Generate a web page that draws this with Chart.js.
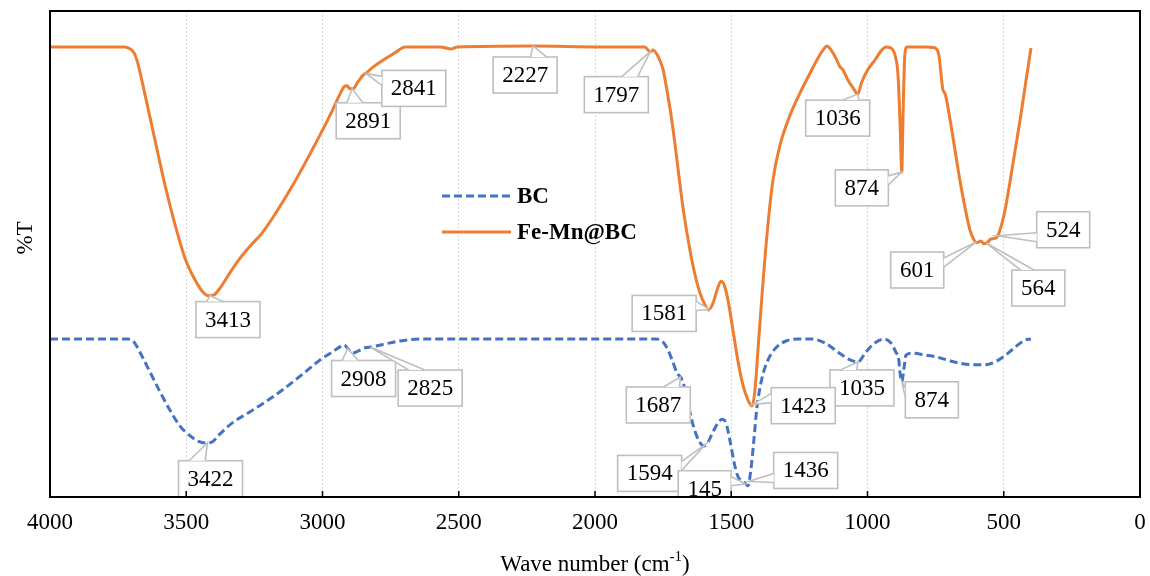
<!DOCTYPE html>
<html><head><meta charset="utf-8">
<script src="https://cdn.jsdelivr.net/npm/chart.js@4.4.0/dist/chart.umd.min.js"></script>
<style>html,body{margin:0;padding:0;background:#fff;overflow:hidden}#wrap{width:1150px;height:576px}</style>
</head><body><div id="wrap"><canvas id="c" width="1150" height="576"></canvas></div>
<script>
// ---------- DATA ----------
const xTickValues = [4000, 3500, 3000, 2500, 2000, 1500, 1000, 500, 0];
const seriesNames = ['BC', 'Fe-Mn@BC'];

const bcWave = [4000,3714,3692,3670,3633,3596,3560,3523,3486,3457,3431,3406,3376,3332,3273,3211,3138,3064,3009,2965,2936,2921,2907,2892,2870,2844,2818,2771,2716,2642,1776,1754,1736,1717,1699,1684,1673,1655,1637,1618,1600,1585,1567,1549,1534,1519,1505,1490,1476,1461,1450,1439,1428,1417,1406,1387,1365,1336,1299,1255,1204,1156,1108,1064,1035,1006,973,939,914,896,885,881,874,866,859,837,789,745,697,650,606,569,525,484,448,422,400];
const bcT = [32.5,32.5,31.9,29.8,25.7,21.6,17.9,14.6,12.6,11.5,11.1,11.3,13.0,15.2,17.3,19.5,22.4,25.7,28.2,29.8,30.9,31.3,30.5,29.6,30.0,30.7,30.9,31.5,32.1,32.5,32.5,32.1,30.7,28.2,25.5,24.5,22.8,18.3,14.2,11.5,10.5,11.3,13.4,15.2,16.0,15.2,11.7,7.2,4.3,3.3,2.9,2.3,5.6,11.7,18.3,24.5,28.2,30.7,32.1,32.5,32.5,31.7,29.8,28.2,27.8,29.8,31.7,32.5,31.7,29.8,28.2,25.7,23.7,26.5,29.2,29.6,29.2,28.8,28.0,27.4,27.2,27.2,28.0,29.6,31.3,32.3,32.5];

const femnWave = [4000,3853,3725,3706,3692,3681,3651,3615,3578,3541,3505,3468,3439,3417,3398,3376,3347,3310,3266,3222,3174,3119,3064,3009,2965,2936,2921,2910,2899,2888,2870,2851,2840,2818,2771,2734,2697,2569,2525,2506,2227,1982,1817,1798,1787,1769,1750,1736,1721,1706,1688,1673,1655,1637,1615,1596,1582,1567,1552,1538,1527,1512,1494,1476,1457,1439,1424,1413,1402,1387,1369,1347,1321,1284,1248,1211,1182,1160,1149,1134,1116,1101,1090,1072,1053,1036,1021,999,973,947,932,914,899,888,881,874,870,863,855,789,752,738,723,716,697,679,661,642,624,609,598,584,573,561,547,528,514,495,470,440,418,400];
const femnT = [92.6,92.6,92.6,92.2,91.4,89.9,82.7,73.5,64.2,56.0,49.2,44.7,42.2,41.4,41.6,43.0,45.5,48.6,51.6,54.3,58.2,63.2,68.7,74.5,79.4,82.9,84.4,84.6,84.0,84.0,85.4,86.8,87.2,88.3,90.1,91.4,92.6,92.6,92.2,92.6,92.8,92.6,92.6,91.6,92.0,90.7,87.9,83.7,78.6,72.4,64.2,58.0,51.9,46.7,42.0,39.5,38.5,39.9,42.6,44.4,43.8,40.5,34.4,28.2,23.0,20.0,18.7,22.0,30.2,41.6,53.9,65.2,72.4,78.6,83.1,87.2,90.3,92.2,92.8,92.0,90.3,88.5,87.9,85.8,84.2,82.9,85.4,87.9,89.9,92.0,92.6,92.4,90.9,86.8,77.6,66.9,77.6,90.9,92.6,92.6,92.4,90.9,83.7,83.1,77.6,71.4,65.2,59.5,54.9,52.9,52.3,52.7,52.1,52.3,53.1,53.3,54.9,59.1,67.3,77.6,85.8,92.4];

const bcPeakWave = [3422, 2908, 2825, 1687, 1594, 1447, 1436, 1035, 874];
const bcPeakText = ['3422', '2908', '2825', '1687', '1594', '145', '1436', '1035', '874'];
const femnPeakWave = [3413, 2891, 2841, 2227, 1797, 1581, 1423, 1036, 874, 601, 564, 524];
const femnPeakText = ['3413', '2891', '2841', '2227', '1797', '1581', '1423', '1036', '874', '601', '564', '524'];

// ---------- LAYOUT (box offsets from tip, px) ----------
const bcCalloutOffset = [[3,36],[16,30],[60,41],[-22,28],[-56,29],[-41,5],[57,-11],[4,26],[30,18]];
const femnCalloutOffset = [[18,24],[16,32],[48,15],[-8,29],[-34,43],[-45,4],[51,1],[-20,24],[-40,16],[-59,28],[52,45],[66,-6]];

const SERIF = "'Liberation Serif','Times New Roman',serif";
const ORANGE = '#ED7D31', BLUE = '#4472C4';

function valAt(waves, vals, w) {
  for (let i = 0; i < waves.length - 1; i++) {
    const a = waves[i], b = waves[i + 1];
    if ((w <= a && w >= b)) {
      const t = a === b ? 0 : (a - w) / (a - b);
      return vals[i] + t * (vals[i + 1] - vals[i]);
    }
  }
  return vals[vals.length - 1];
}

function drawCallout(ctx, tx, ty, cx, cy, text) {
  ctx.font = '23px ' + SERIF;
  const tw = ctx.measureText(text).width;
  const w = Math.round(tw + 18), h = 36;
  const l = cx - w / 2, t = cy - h / 2;
  const dx = tx - cx, dy = ty - cy;
  let p1, p2;
  if (Math.abs(dy) * w > Math.abs(dx) * h) {
    const ey = dy < 0 ? t : t + h;
    const g1 = dx > 0 ? 7 : 2, g2 = dx > 0 ? 10 : 5;
    p1 = [l + w * g1 / 12, ey]; p2 = [l + w * g2 / 12, ey];
  } else {
    const ex = dx < 0 ? l : l + w;
    const g1 = dy > 0 ? 7 : 2, g2 = dy > 0 ? 10 : 5;
    p1 = [ex, t + h * g1 / 12]; p2 = [ex, t + h * g2 / 12];
  }
  ctx.lineWidth = 1.6;
  ctx.strokeStyle = '#BFBFBF';
  ctx.fillStyle = '#FFFFFF';
  ctx.fillRect(l, t, w, h);
  ctx.strokeRect(l, t, w, h);
  ctx.beginPath();
  ctx.moveTo(p1[0], p1[1]); ctx.lineTo(tx, ty); ctx.lineTo(p2[0], p2[1]); ctx.closePath();
  ctx.fill();
  ctx.beginPath();
  ctx.moveTo(p1[0], p1[1]); ctx.lineTo(tx, ty); ctx.lineTo(p2[0], p2[1]);
  ctx.stroke();
  ctx.fillStyle = '#000';
  ctx.textAlign = 'center'; ctx.textBaseline = 'middle';
  ctx.fillText(text, cx, cy + 1);
}

const decorPlugin = {
  id: 'decor',
  afterDatasetsDraw(chart) {
    const ctx = chart.ctx, a = chart.chartArea, xs = chart.scales.x, ys = chart.scales.y;
    ctx.save();
    ctx.beginPath(); ctx.rect(a.left, a.top, a.right - a.left, a.bottom - a.top); ctx.clip();
    const groups = [
      [bcWave, bcT, bcPeakWave, bcPeakText, bcCalloutOffset],
      [femnWave, femnT, femnPeakWave, femnPeakText, femnCalloutOffset]
    ];
    groups.forEach(([W, V, PW, PT, OFF]) => {
      PW.forEach((w, i) => {
        const tx = xs.getPixelForValue(w), ty = ys.getPixelForValue(valAt(W, V, w));
        drawCallout(ctx, tx, ty, tx + OFF[i][0], ty + OFF[i][1], PT[i]);
      });
    });
    ctx.restore();

    ctx.save();
    ctx.strokeStyle = '#000'; ctx.lineWidth = 2;
    ctx.strokeRect(a.left, a.top, a.right - a.left, a.bottom - a.top);
    ctx.lineWidth = 1.5;
    xTickValues.forEach(v => {
      const x = xs.getPixelForValue(v);
      ctx.beginPath(); ctx.moveTo(x, a.bottom); ctx.lineTo(x, a.bottom - 6); ctx.stroke();
    });
    const items = [[BLUE, [8, 4], seriesNames[0], 196], [ORANGE, [], seriesNames[1], 232]];
    items.forEach(([col, dash, name, y]) => {
      ctx.strokeStyle = col; ctx.lineWidth = 3; ctx.setLineDash(dash);
      ctx.beginPath(); ctx.moveTo(442, y); ctx.lineTo(511, y); ctx.stroke();
      ctx.setLineDash([]);
      ctx.fillStyle = '#000'; ctx.font = 'bold 23px ' + SERIF;
      ctx.textAlign = 'left'; ctx.textBaseline = 'middle';
      ctx.fillText(name, 517, y + 1);
    });
    ctx.save();
    ctx.translate(26, 238); ctx.rotate(-Math.PI / 2);
    ctx.font = '23px ' + SERIF; ctx.textAlign = 'center'; ctx.textBaseline = 'middle';
    ctx.fillText('%T', 0, 0);
    ctx.restore();
    ctx.font = '23px ' + SERIF; ctx.textBaseline = 'alphabetic'; ctx.textAlign = 'left';
    const s1 = 'Wave number (cm', s2 = '-1', s3 = ')';
    const w1 = ctx.measureText(s1).width;
    ctx.font = '15px ' + SERIF;
    const w2 = ctx.measureText(s2).width;
    ctx.font = '23px ' + SERIF;
    const w3 = ctx.measureText(s3).width;
    let x0 = 595 - (w1 + w2 + w3) / 2, yb = 571;
    ctx.fillText(s1, x0, yb);
    ctx.font = '15px ' + SERIF; ctx.fillText(s2, x0 + w1, yb - 10);
    ctx.font = '23px ' + SERIF; ctx.fillText(s3, x0 + w1 + w2, yb);
    ctx.restore();
  }
};

new Chart(document.getElementById('c'), {
  type: 'line',
  data: {
    datasets: [
      { label: seriesNames[1], data: femnWave.map((w, i) => ({ x: w, y: femnT[i] })),
        borderColor: ORANGE, borderWidth: 3, pointRadius: 0, fill: false,
        cubicInterpolationMode: 'monotone', order: 1 },
      { label: seriesNames[0], data: bcWave.map((w, i) => ({ x: w, y: bcT[i] })),
        borderColor: BLUE, borderWidth: 3, borderDash: [8, 4], pointRadius: 0, fill: false,
        cubicInterpolationMode: 'monotone', order: 2 }
    ]
  },
  options: {
    responsive: false, animation: false, devicePixelRatio: 1,
    layout: { padding: { left: 50, right: 10, top: 11, bottom: 0 } },
    plugins: { legend: { display: false }, tooltip: { enabled: false }, title: { display: false } },
    scales: {
      x: {
        type: 'linear', reverse: true, min: 0, max: 4000,
        afterBuildTicks: s => { s.ticks = xTickValues.map(v => ({ value: v })); },
        afterFit: s => { s.height = 79; s.paddingLeft = 0; s.paddingRight = 0; },
        ticks: { callback: v => String(v), color: '#000', font: { family: SERIF, size: 23 }, padding: 12, maxRotation: 0, autoSkip: false },
        grid: { drawTicks: false, lineWidth: 1,
          color: c => (c.tick && (c.tick.value === 0 || c.tick.value === 4000)) ? 'rgba(0,0,0,0)' : '#D9D9D9' },
        border: { display: true, color: '#000', width: 2, dash: [2, 2] }
      },
      y: {
        min: 0, max: 100,
        afterFit: s => { s.width = 0; },
        ticks: { display: false },
        grid: { display: false, drawTicks: false },
        border: { display: true, color: '#000', width: 2 }
      }
    }
  },
  plugins: [decorPlugin]
});
</script>
</body></html>
